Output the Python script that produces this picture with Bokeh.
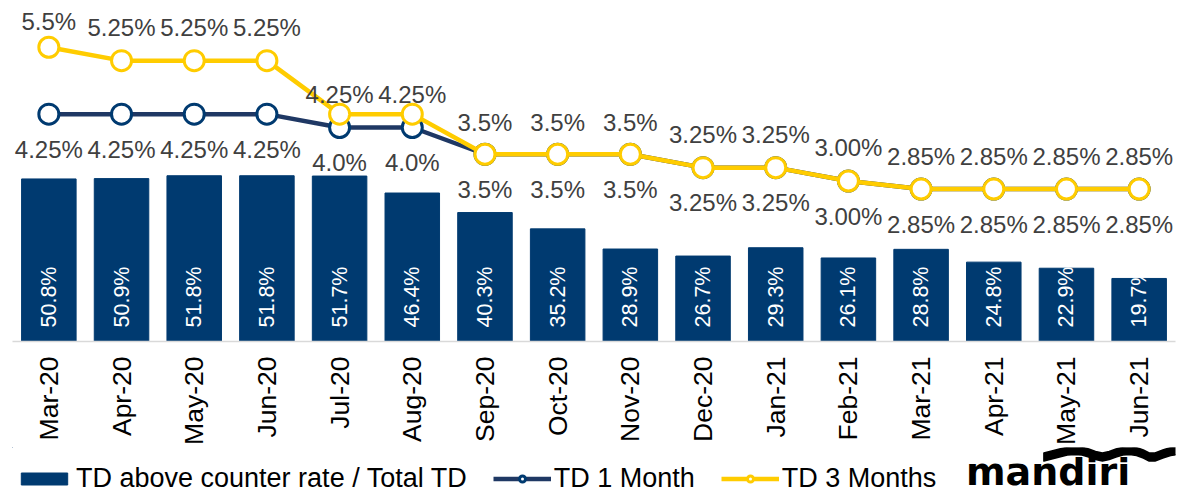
from math import pi
from bokeh.plotting import figure
from bokeh.layouts import column
from bokeh.models import ColumnDataSource, Range1d, Legend, LegendItem
from bokeh.core.properties import value
from bokeh.embed import file_html
from bokeh.resources import INLINE

# ---------------- data ----------------
months = ["Mar-20", "Apr-20", "May-20", "Jun-20", "Jul-20", "Aug-20", "Sep-20", "Oct-20",
          "Nov-20", "Dec-20", "Jan-21", "Feb-21", "Mar-21", "Apr-21", "May-21", "Jun-21"]
td_above_share = [50.8, 50.9, 51.8, 51.8, 51.7, 46.4, 40.3, 35.2,
                  28.9, 26.7, 29.3, 26.1, 28.8, 24.8, 22.9, 19.7]
td_1m = [4.25, 4.25, 4.25, 4.25, 4.0, 4.0, 3.5, 3.5,
         3.5, 3.25, 3.25, 3.00, 2.85, 2.85, 2.85, 2.85]
td_3m = [5.5, 5.25, 5.25, 5.25, 4.25, 4.25, 3.5, 3.5,
         3.5, 3.25, 3.25, 3.00, 2.85, 2.85, 2.85, 2.85]
td_1m_labels = ["4.25%", "4.25%", "4.25%", "4.25%", "4.0%", "4.0%", "3.5%", "3.5%",
                "3.5%", "3.25%", "3.25%", "3.00%", "2.85%", "2.85%", "2.85%", "2.85%"]
td_3m_labels = ["5.5%", "5.25%", "5.25%", "5.25%", "4.25%", "4.25%", "3.5%", "3.5%",
                "3.5%", "3.25%", "3.25%", "3.00%", "2.85%", "2.85%", "2.85%", "2.85%"]
bar_labels = ["50.8%", "50.9%", "51.8%", "51.8%", "51.7%", "46.4%", "40.3%", "35.2%",
              "28.9%", "26.7%", "29.3%", "26.1%", "28.8%", "24.8%", "22.9%", "19.7%"]
series_names = ["TD above counter rate / Total TD", "TD 1 Month", "TD 3 Months"]
logo_text = "mandiri"

# ---------------- layout / style ----------------
FONT = "Liberation Sans"
NAVY = "#003A70"
NAVY_LINE = "#1F3864"
GOLD = "#FFCC00"
LABEL_GRAY = "#404040"

W = 1193
H_MAIN = 447
H_FOOT = 47
BORDER_L, BORDER_R, BORDER_T, BORDER_B = 12, 18, 0, 106
FRAME_H = H_MAIN - BORDER_T - BORDER_B
BAR_PX = 3.2      # pixels per % of bar axis
RATE_PX = 53.5    # pixels per % of rate axis

bar_end = FRAME_H / BAR_PX
rate_end = FRAME_H / RATE_PX

# label offsets in pixels
off_1m_below = 35
off_3m_above = [26, 33, 33, 33, 20, 20, 32, 32, 32, 33, 33, 34, 33, 33, 33, 33]
bar_label_lift = 14

src = ColumnDataSource(dict(
    m=months, share=td_above_share, r1=td_1m, r3=td_3m,
    l1=td_1m_labels, l3=td_3m_labels, lb=bar_labels,
    y1=[v - off_1m_below / RATE_PX for v in td_1m],
    y3=[v + o / RATE_PX for v, o in zip(td_3m, off_3m_above)],
    yb=[bar_label_lift / BAR_PX] * len(months),
))

p = figure(x_range=months, y_range=Range1d(0, bar_end), width=W, height=H_MAIN,
           output_backend="svg", toolbar_location=None, y_axis_location=None,
           min_border_left=BORDER_L, min_border_right=BORDER_R,
           min_border_top=BORDER_T, min_border_bottom=BORDER_B)
p.extra_y_ranges = {"rate": Range1d(0, rate_end)}
p.outline_line_color = None
p.xgrid.visible = False
p.ygrid.visible = False
p.background_fill_color = "white"
p.border_fill_color = "white"

xa = p.xaxis[0]
xa.major_label_orientation = pi / 2
xa.major_label_text_font = FONT
xa.major_label_text_font_size = "26.5px"
xa.major_label_text_color = "black"
xa.major_label_standoff = 15
xa.axis_line_color = "#D9D9D9"
xa.axis_line_width = 1.5
xa.major_tick_line_color = None
xa.minor_tick_line_color = None
xa.major_tick_out = 0
xa.major_tick_in = 0
xa.minor_tick_out = 0
xa.minor_tick_in = 0

p.vbar(x="m", top="share", width=0.75, source=src, fill_color=NAVY, line_color=NAVY)

p.line("m", "r1", source=src, y_range_name="rate", line_color=NAVY_LINE, line_width=4.5)
p.scatter("m", "r1", source=src, y_range_name="rate", size=20, marker="circle",
          fill_color="white", line_color=NAVY, line_width=3)
p.line("m", "r3", source=src, y_range_name="rate", line_color=GOLD, line_width=4.5)
p.scatter("m", "r3", source=src, y_range_name="rate", size=20, marker="circle",
          fill_color="white", line_color=GOLD, line_width=3)

p.text("m", "yb", text="lb", source=src, angle=pi / 2, text_align="left",
       text_baseline="middle", text_color="white", text_font=value(FONT),
       text_font_size="21.5px")
p.text("m", "y1", text="l1", source=src, y_range_name="rate", text_align="center",
       text_baseline="middle", text_color=LABEL_GRAY, text_font=value(FONT),
       text_font_size="24px")
p.text("m", "y3", text="l3", source=src, y_range_name="rate", text_align="center",
       text_baseline="middle", text_color=LABEL_GRAY, text_font=value(FONT),
       text_font_size="24px")

# ---------------- footer: legend + logo (pixel-mapped ranges) ----------------
Y_TOP = H_MAIN
Y_BOT = H_MAIN + H_FOOT
f = figure(width=W, height=H_FOOT, x_range=Range1d(0, W), y_range=Range1d(Y_BOT, Y_TOP),
           output_backend="svg", toolbar_location=None, x_axis_location=None,
           y_axis_location=None, min_border=0)
f.outline_line_color = None
f.background_fill_color = "white"
f.border_fill_color = "white"
for g in f.grid:
    g.visible = False

# legend proxies (placed outside the visible range)
proxy = ColumnDataSource(dict(x=[-100], y=[-100]))
pb = f.vbar(x="x", top="y", width=1, source=proxy, fill_color=NAVY, line_color=NAVY)
pl1 = f.line("x", "y", source=proxy, line_color=NAVY_LINE, line_width=4.5)
ps1 = f.scatter("x", "y", source=proxy, size=17, marker="circle", fill_color="white",
                line_color=NAVY, line_width=3)
pl3 = f.line("x", "y", source=proxy, line_color=GOLD, line_width=4.5)
ps3 = f.scatter("x", "y", source=proxy, size=17, marker="circle", fill_color="white",
                line_color=GOLD, line_width=3)

legend = Legend(items=[
    LegendItem(label=series_names[0], renderers=[pb]),
    LegendItem(label=series_names[1], renderers=[pl1, ps1]),
    LegendItem(label=series_names[2], renderers=[pl3, ps3]),
], location=(3, 0), orientation="horizontal", glyph_width=58, glyph_height=15,
    label_standoff=3, spacing=26, padding=0, margin=0, border_line_color=None,
    background_fill_alpha=0, label_text_font=FONT, label_text_font_size="27px",
    label_text_color="black")
f.add_layout(legend)

# mandiri logo
f.text(x=[978], y=[471], text=[logo_text], text_font=value("DejaVu Sans"),
       text_font_size="38px", text_font_style="bold", text_color="black",
       text_baseline="middle", text_align="left")
wave_x = [1058, 1066, 1074, 1082, 1090, 1097, 1104, 1111, 1118, 1125, 1132, 1139,
          1146, 1153, 1160, 1166, 1172, 1180, 1188, 1196]
wave_y = [456.5, 454.5, 452.5, 450.5, 450, 450.5, 452.5, 455, 456.5, 455, 452.5, 450.5,
          450, 451, 453.5, 456.5, 456.5, 453.5, 451, 450]
half = 4
f.patch([*wave_x, *wave_x[::-1]],
        [*(y - half for y in wave_y), *(y + half for y in wave_y[::-1])],
        fill_color="black", line_color="black", line_width=1.5, line_join="round")

layout = column(p, f, spacing=0)
open("out.html", "w").write(file_html(layout, INLINE))
